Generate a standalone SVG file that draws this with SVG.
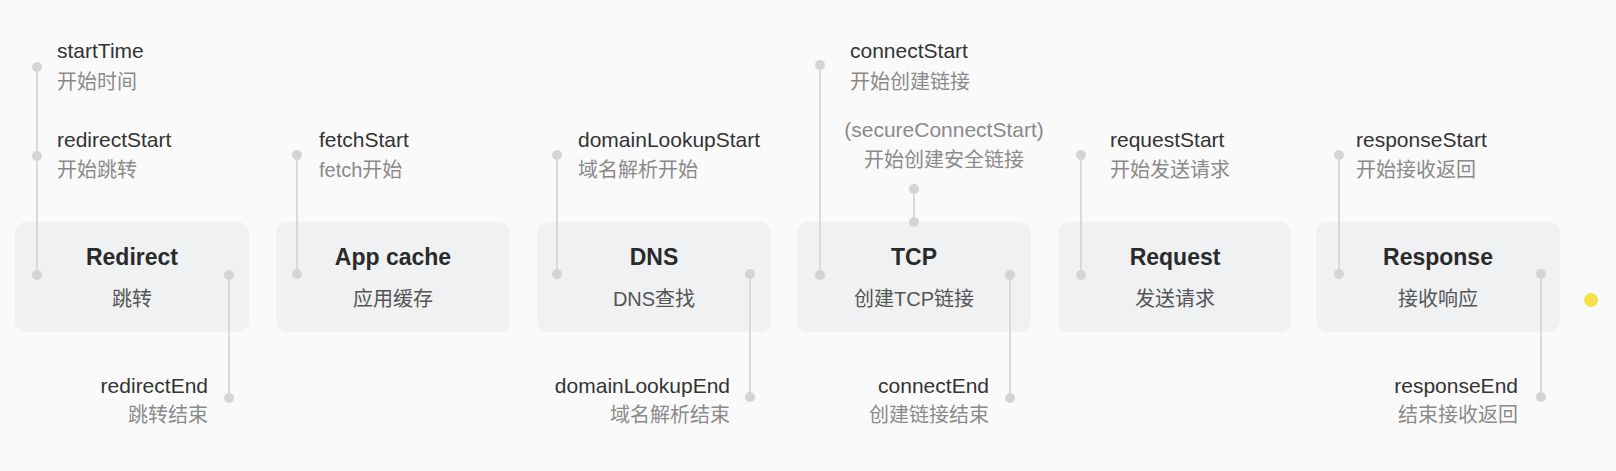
<svg xmlns="http://www.w3.org/2000/svg" width="1616" height="471" viewBox="0 0 1616 471">
<style>
.box{fill:#eff1f3}
.t{font-family:"Liberation Sans","Noto Sans CJK SC",sans-serif;font-size:23px;font-weight:bold;fill:#2a2a2a;text-anchor:middle}
.s{font-family:"Liberation Sans","Noto Sans CJK SC",sans-serif;font-size:20px;fill:#555;text-anchor:middle}
.en{font-family:"Liberation Sans","Noto Sans CJK SC",sans-serif;font-size:21px;fill:#333}
.zh{font-family:"Liberation Sans","Noto Sans CJK SC",sans-serif;font-size:20px;fill:#8a8a8a}
.lt{fill:#8a8a8a}
.r{text-anchor:end}
.ln{stroke:#d9dadb;stroke-width:2;fill:none}
.dot{fill:#d3d4d6}
</style>
<rect width="1616" height="471" fill="#fafafa"/>
<g id="redirect">
<rect class="box" x="15" y="222" width="234" height="110" rx="11"/>
<text class="t" x="132" y="265">Redirect</text>
<text class="s" x="132" y="306">跳转</text>
<circle class="dot" cx="37" cy="67" r="5"/><circle class="dot" cx="37" cy="156" r="5"/><circle class="dot" cx="37" cy="275" r="5"/>
<circle class="dot" cx="229" cy="275" r="5"/><circle class="dot" cx="229" cy="398" r="5"/>
<text class="en" x="57" y="58">startTime</text><text class="zh" x="57" y="89">开始时间</text>
<text class="en" x="57" y="147">redirectStart</text><text class="zh" x="57" y="177">开始跳转</text>
<text class="en r" x="208" y="393">redirectEnd</text><text class="zh r" x="208" y="422">跳转结束</text>
</g>
<g id="appcache">
<rect class="box" x="276" y="222" width="234" height="110" rx="11"/>
<text class="t" x="393" y="265">App cache</text>
<text class="s" x="393" y="306">应用缓存</text>
<circle class="dot" cx="297" cy="155" r="5"/><circle class="dot" cx="297" cy="274" r="5"/>
<text class="en" x="319" y="147">fetchStart</text><text class="zh" x="319" y="177">fetch开始</text>
</g>
<g id="dns">
<rect class="box" x="537" y="222" width="234" height="110" rx="11"/>
<text class="t" x="654" y="265">DNS</text>
<text class="s" x="654" y="306">DNS查找</text>
<circle class="dot" cx="557" cy="155" r="5"/><circle class="dot" cx="557" cy="274" r="5"/>
<circle class="dot" cx="750" cy="274" r="5"/><circle class="dot" cx="750" cy="397" r="5"/>
<text class="en" x="578" y="147">domainLookupStart</text><text class="zh" x="578" y="177">域名解析开始</text>
<text class="en r" x="730" y="393">domainLookupEnd</text><text class="zh r" x="730" y="422">域名解析结束</text>
</g>
<g id="tcp">
<rect class="box" x="797" y="222" width="234" height="110" rx="11"/>
<text class="t" x="914" y="265">TCP</text>
<text class="s" x="914" y="306">创建TCP链接</text>
<circle class="dot" cx="820" cy="65" r="5"/><circle class="dot" cx="820" cy="275" r="5"/>
<circle class="dot" cx="914" cy="189" r="5"/><circle class="dot" cx="914" cy="222" r="5"/>
<circle class="dot" cx="1010" cy="275" r="5"/><circle class="dot" cx="1010" cy="398" r="5"/>
<text class="en" x="850" y="58">connectStart</text><text class="zh" x="850" y="89">开始创建链接</text>
<text class="en lt" x="944" y="137" text-anchor="middle">(secureConnectStart)</text><text class="zh" x="944" y="167" text-anchor="middle">开始创建安全链接</text>
<text class="en r" x="989" y="393">connectEnd</text><text class="zh r" x="989" y="422">创建链接结束</text>
</g>
<g id="request">
<rect class="box" x="1058" y="222" width="233" height="110" rx="11"/>
<text class="t" x="1175" y="265">Request</text>
<text class="s" x="1175" y="306">发送请求</text>
<circle class="dot" cx="1081" cy="155" r="5"/><circle class="dot" cx="1081" cy="275" r="5"/>
<text class="en" x="1110" y="147">requestStart</text><text class="zh" x="1110" y="177">开始发送请求</text>
</g>
<g id="response">
<rect class="box" x="1316" y="222" width="244" height="110" rx="11"/>
<text class="t" x="1438" y="265">Response</text>
<text class="s" x="1438" y="306">接收响应</text>
<circle class="dot" cx="1339" cy="155" r="5"/><circle class="dot" cx="1339" cy="274" r="5"/>
<circle class="dot" cx="1541" cy="274" r="5"/><circle class="dot" cx="1541" cy="397" r="5"/>
<text class="en" x="1356" y="147">responseStart</text><text class="zh" x="1356" y="177">开始接收返回</text>
<text class="en r" x="1518" y="393">responseEnd</text><text class="zh r" x="1518" y="422">结束接收返回</text>
</g>
<g id="connectors">
<path class="ln" d="M37 72V151M37 161V270M229 280V393M297 160V269M557 160V269M750 279V392M820 70V270M1010 280V393M914 194V217M1081 160V270M1339 160V269M1541 279V392"/>
</g>
<g id="marker">
<circle cx="1591" cy="300" r="7" fill="#f5e04a"/>
</g>
</svg>
